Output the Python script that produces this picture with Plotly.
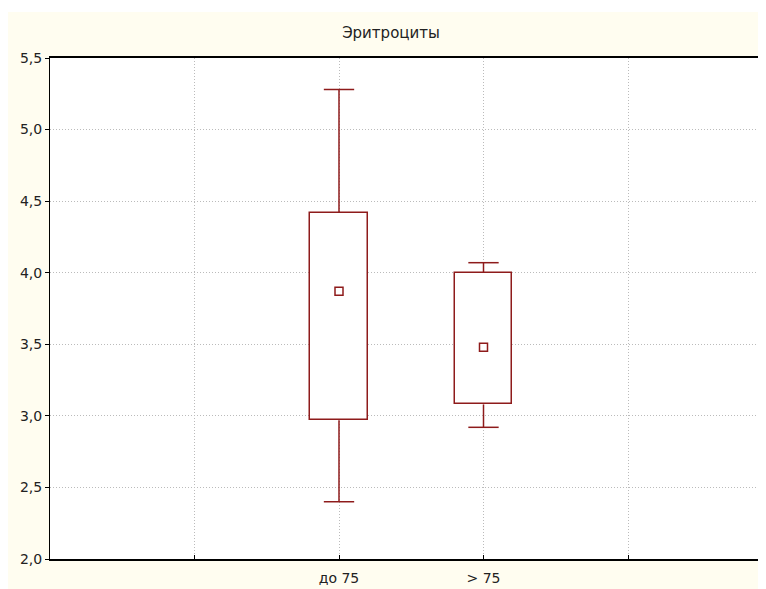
import plotly.graph_objects as go

categories = ["до 75", "> 75"]
medians = [3.87, 3.48]
q1 = [2.97, 3.08]
q3 = [4.42, 4.00]
mins = [2.40, 2.92]
maxs = [5.28, 4.07]
y_ticks = [2.0, 2.5, 3.0, 3.5, 4.0, 4.5, 5.0, 5.5]

RED = "#8E1B1B"
CREAM = "#FFFDF0"
pos = [1, 2]
box_w = 0.40
cap_half = 0.105

fig = go.Figure()

# whiskers
wx, wy = [], []
for x, lo, a, b, hi in zip(pos, mins, q1, q3, maxs):
    wx += [x, x, None, x - cap_half, x + cap_half, None, x, x, None, x - cap_half, x + cap_half, None]
    wy += [b, hi, None, hi, hi, None, a, lo, None, lo, lo, None]
fig.add_trace(go.Scatter(x=wx, y=wy, mode="lines", line=dict(color=RED, width=1.5),
                         hoverinfo="skip", showlegend=False))

# boxes
fig.add_trace(go.Bar(x=pos, base=q1, y=[b - a for a, b in zip(q1, q3)], width=box_w,
                     marker=dict(color="white", line=dict(color=RED, width=1.5)),
                     showlegend=False))

# medians
fig.add_trace(go.Scatter(x=pos, y=medians, mode="markers",
                         marker=dict(symbol="square", size=8, color="white",
                                     line=dict(color=RED, width=1.5)),
                         showlegend=False))

# page has an 8px body margin, so the figure is sized to fit the window
W, H = 758, 581
ml, mr, mt, mb = 42, 0, 50, 30
pw, ph = W - ml - mr, H - mt - mb

def px(xp):
    return (xp - ml) / pw

def py(yp):
    return (H - mb - yp) / ph

shapes = [
    dict(type="rect", xref="paper", yref="paper", x0=px(0), x1=px(W), y0=py(4), y1=py(0),
         fillcolor="white", line=dict(width=0), layer="below"),
]

fig.update_layout(
    width=W, height=H,
    margin=dict(l=ml, r=mr, t=mt, b=mb),
    paper_bgcolor=CREAM, plot_bgcolor="white",
    separators=", ",
    font=dict(family="DejaVu Sans", size=14, color="#222222"),
    title=dict(text="Эритроциты", x=383 / W, xanchor="center", y=1 - 25 / H, yanchor="middle",
               font=dict(family="DejaVu Sans", size=15, color="#222222")),
    shapes=shapes,
    barmode="overlay",
    bargap=0,
)
fig.update_xaxes(range=[-1, 3.955], tickmode="array", tickvals=[0, 1, 2, 3],
                 ticktext=["", categories[0], categories[1], ""],
                 showgrid=True, gridcolor="#BBBBBB", griddash="1px,2px", gridwidth=1,
                 showline=True, linecolor="black", linewidth=1.5, mirror=True,
                 ticks="inside", ticklen=4, tickcolor="black", ticklabelstandoff=5,
                 zeroline=False, fixedrange=True)
fig.update_yaxes(range=[2.0, 5.5], tickmode="array", tickvals=y_ticks,
                 tickformat=".1f",
                 showgrid=True, gridcolor="#BBBBBB", griddash="1px,2px", gridwidth=1,
                 showline=True, linecolor="black", linewidth=1,
                 ticks="outside", ticklen=4, tickcolor="black",
                 zeroline=False, fixedrange=True)

fig.write_html("out.html")
